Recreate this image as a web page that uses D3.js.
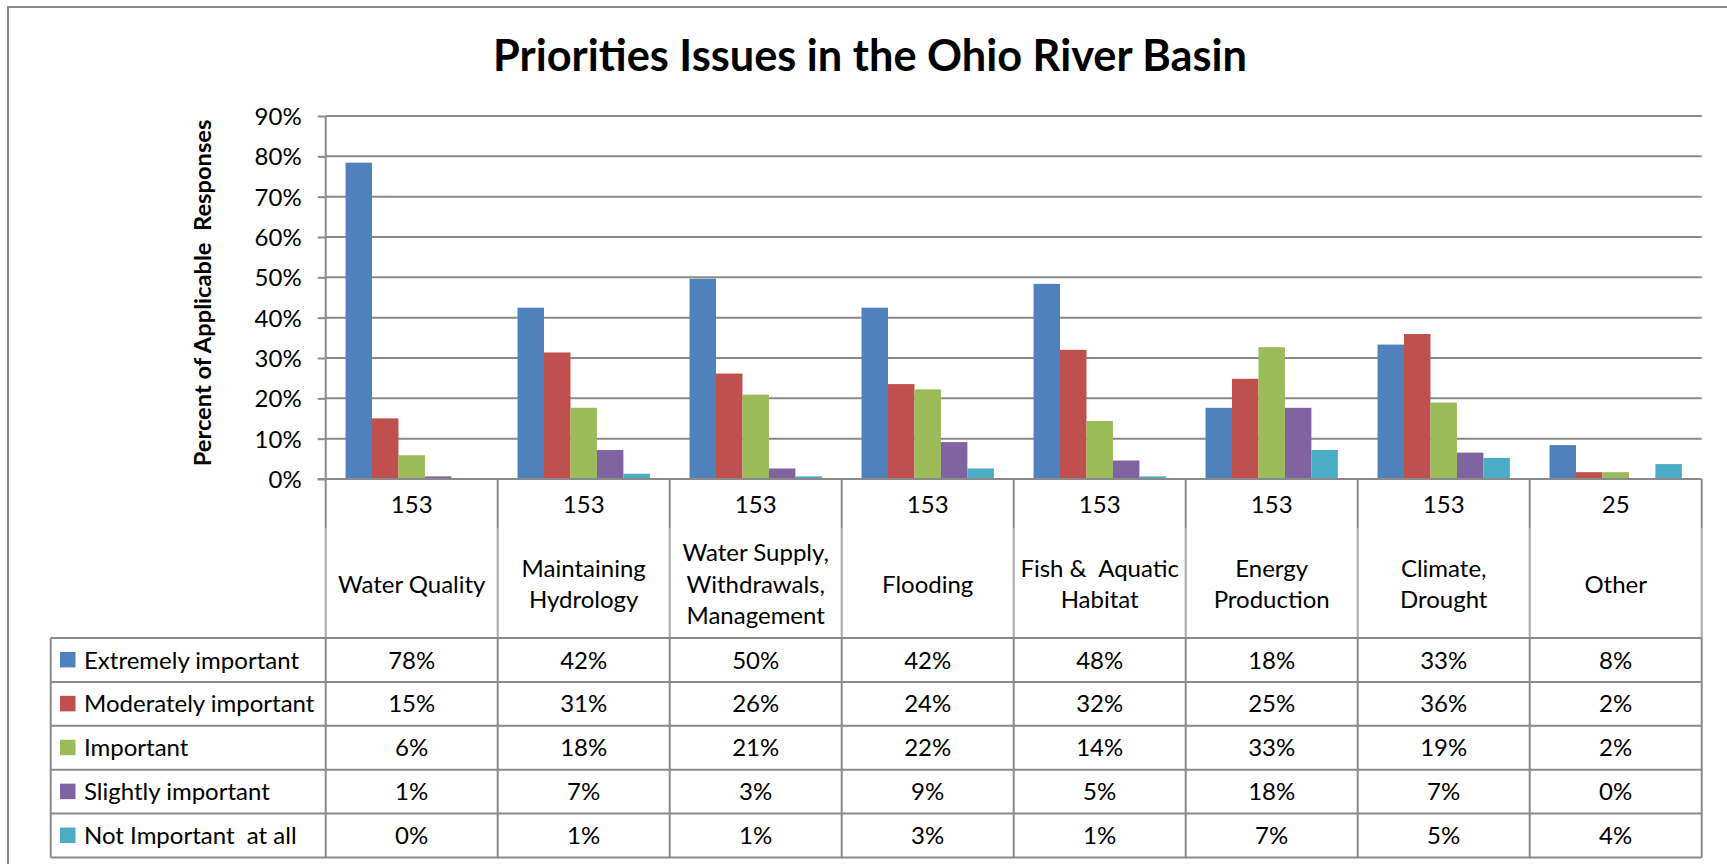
<!DOCTYPE html>
<html>
<head>
<meta charset="utf-8">
<script src="https://cdn.jsdelivr.net/npm/d3@7"></script>
<style>
  html, body { margin: 0; padding: 0; background: #ffffff; }
  svg { display: block; }
  text { font-family: Lato, "Open Sans", sans-serif; fill: #000; }
</style>
</head>
<body>
<svg id="chart" width="1727" height="864"></svg>
<script>
// ---------------- DATA ----------------
const chartTitle = "Priorities Issues in the Ohio River Basin";
const yAxisTitle = "Percent of Applicable  Responses";
const categories = [
  "Water Quality",
  "Maintaining\nHydrology",
  "Water Supply,\nWithdrawals,\nManagement",
  "Flooding",
  "Fish &  Aquatic\nHabitat",
  "Energy\nProduction",
  "Climate,\nDrought",
  "Other"
];
const respondents = [153, 153, 153, 153, 153, 153, 153, 25];
const seriesNames = [
  "Extremely important",
  "Moderately important",
  "Important",
  "Slightly important",
  "Not Important  at all"
];
const seriesColors = ["#4F81BD", "#C0504D", "#9BBB59", "#8064A2", "#4BACC6"];
const extremelyImportant  = [78.43, 42.48, 49.67, 42.48, 48.37, 17.65, 33.33, 8.4];
const moderatelyImportant = [15.03, 31.37, 26.14, 23.53, 32.03, 24.84, 35.95, 1.7];
const importantValues     = [5.88, 17.65, 20.92, 22.22, 14.38, 32.68, 18.95, 1.7];
const slightlyImportant   = [0.65, 7.19, 2.61, 9.15, 4.58, 17.65, 6.54, 0];
const notImportantAtAll   = [0, 1.31, 0.65, 2.61, 0.65, 7.19, 5.23, 3.7];
const yTicks = [0, 10, 20, 30, 40, 50, 60, 70, 80, 90];

const seriesValues = [extremelyImportant, moderatelyImportant, importantValues, slightlyImportant, notImportantAtAll];

// ---------------- LAYOUT ----------------
const svg = d3.select("#chart");
const lineColor = "#8a8a8a";
const plotLeft = 325.7, plotRight = 1701.7, plotTop = 116, plotBottom = 479;
const tableLeft = 50.7;
const nameRowTop = 528;
const rowsTop = 638, rowH = 43.9;
const fontSize = 24;

// outer frame (only top & left visible)
svg.append("rect").attr("x", 8).attr("y", 7).attr("width", 1900).attr("height", 1000)
  .attr("fill", "none").attr("stroke", lineColor).attr("stroke-width", 2);

const x0 = d3.scaleBand().domain(categories).range([plotLeft, plotRight]).paddingInner(0).paddingOuter(0);
const x1 = d3.scaleBand().domain(seriesNames).range([0, x0.bandwidth()]).paddingInner(0).paddingOuter(0.75);
const y = d3.scaleLinear().domain([0, 90]).range([plotBottom, plotTop]);

// gridlines
svg.append("g").selectAll("line").data(yTicks.filter(d => d > 0)).join("line")
  .attr("x1", plotLeft).attr("x2", plotRight)
  .attr("y1", d => y(d)).attr("y2", d => y(d))
  .attr("stroke", lineColor).attr("stroke-width", 2);

// bars
const gBars = svg.append("g");
categories.forEach((c, ci) => {
  seriesNames.forEach((s, si) => {
    const v = seriesValues[si][ci];
    if (v <= 0) return;
    gBars.append("rect")
      .attr("x", x0(c) + x1(s))
      .attr("width", x1.bandwidth())
      .attr("y", y(v))
      .attr("height", y(0) - y(v))
      .attr("fill", seriesColors[si]);
  });
});

// y axis
const yAxis = d3.axisLeft(y).tickValues(yTicks).tickSize(8).tickPadding(8).tickFormat(d => d + "%");
const gy = svg.append("g").attr("transform", `translate(${plotLeft},0)`).call(yAxis);
gy.select(".domain").attr("stroke", lineColor).attr("stroke-width", 2).attr("d", `M0,${plotTop}V${plotBottom}`);
gy.selectAll(".tick line").attr("stroke", lineColor).attr("stroke-width", 2);
gy.selectAll(".tick text").attr("font-family", "Lato").attr("font-size", fontSize).attr("fill", "#000").attr("dy", "0.36em").attr("x", -24);

// baseline (0%) across plot and tick
svg.append("line").attr("x1", plotLeft - 8).attr("x2", plotRight)
  .attr("y1", plotBottom).attr("y2", plotBottom).attr("stroke", lineColor).attr("stroke-width", 2);

// ---------------- TABLE ----------------
const tableBottom = rowsTop + rowH * seriesNames.length;
const gT = svg.append("g");
const vX = categories.map(c => x0(c)).concat([plotRight]);
gT.selectAll("line.vh").data(vX).join("line").attr("class", "vh")
  .attr("x1", d => d).attr("x2", d => d).attr("y1", plotBottom).attr("y2", nameRowTop)
  .attr("stroke", lineColor).attr("stroke-width", 2);
gT.selectAll("line.vn").data(vX).join("line").attr("class", "vn")
  .attr("x1", d => d).attr("x2", d => d).attr("y1", nameRowTop).attr("y2", rowsTop)
  .attr("stroke", "#a8a8a8").attr("stroke-width", 2);
gT.selectAll("line.vr").data([tableLeft].concat(vX)).join("line").attr("class", "vr")
  .attr("x1", d => d).attr("x2", d => d).attr("y1", rowsTop).attr("y2", tableBottom)
  .attr("stroke", lineColor).attr("stroke-width", 2);
gT.selectAll("line.h").data(d3.range(seriesNames.length + 1)).join("line").attr("class", "h")
  .attr("x1", tableLeft).attr("x2", plotRight)
  .attr("y1", i => rowsTop + i * rowH).attr("y2", i => rowsTop + i * rowH)
  .attr("stroke", lineColor).attr("stroke-width", 2);

// N row
gT.selectAll("text.n").data(categories).join("text").attr("class", "n")
  .attr("x", c => x0(c) + x0.bandwidth() / 2).attr("y", 504).attr("dy", "0.36em")
  .attr("text-anchor", "middle").attr("font-size", fontSize)
  .text((c, i) => respondents[i]);

// category names
const lineH = 31.5, nameCenter = 584;
categories.forEach(c => {
  const lines = c.split("\n");
  const t = gT.append("text").attr("text-anchor", "middle").attr("font-size", fontSize)
    .style("white-space", "pre");
  lines.forEach((ln, li) => {
    t.append("tspan").attr("x", x0(c) + x0.bandwidth() / 2)
      .attr("y", nameCenter + (li - (lines.length - 1) / 2) * lineH)
      .attr("dy", "0.36em").text(ln);
  });
});

// legend rows
seriesNames.forEach((s, si) => {
  const cy = rowsTop + si * rowH + rowH / 2;
  gT.append("rect").attr("x", 60).attr("y", cy - 8).attr("width", 15.5).attr("height", 15.5)
    .attr("fill", seriesColors[si]);
  gT.append("text").attr("x", 84).attr("y", cy).attr("dy", "0.36em")
    .attr("font-size", fontSize).style("white-space", "pre").text(s);
  categories.forEach((c, ci) => {
    gT.append("text").attr("x", x0(c) + x0.bandwidth() / 2).attr("y", cy).attr("dy", "0.36em")
      .attr("text-anchor", "middle").attr("font-size", fontSize)
      .text(Math.round(seriesValues[si][ci]) + "%");
  });
});

// ---------------- TITLES ----------------
function fitText(sel, target) {
  const base = +sel.attr("font-size");
  const w = sel.node().getComputedTextLength();
  sel.attr("font-size", base * target / w);
}
const title = svg.append("text").attr("x", 870).attr("y", 71).attr("text-anchor", "middle")
  .attr("font-size", 40).attr("font-weight", 700).text(chartTitle);
fitText(title, 754);

const yt = svg.append("text").attr("transform", "translate(211,293) rotate(-90)")
  .attr("text-anchor", "middle").attr("font-size", 22).attr("font-weight", 700)
  .style("white-space", "pre").text(yAxisTitle);
fitText(yt, 347);
</script>
</body>
</html>
